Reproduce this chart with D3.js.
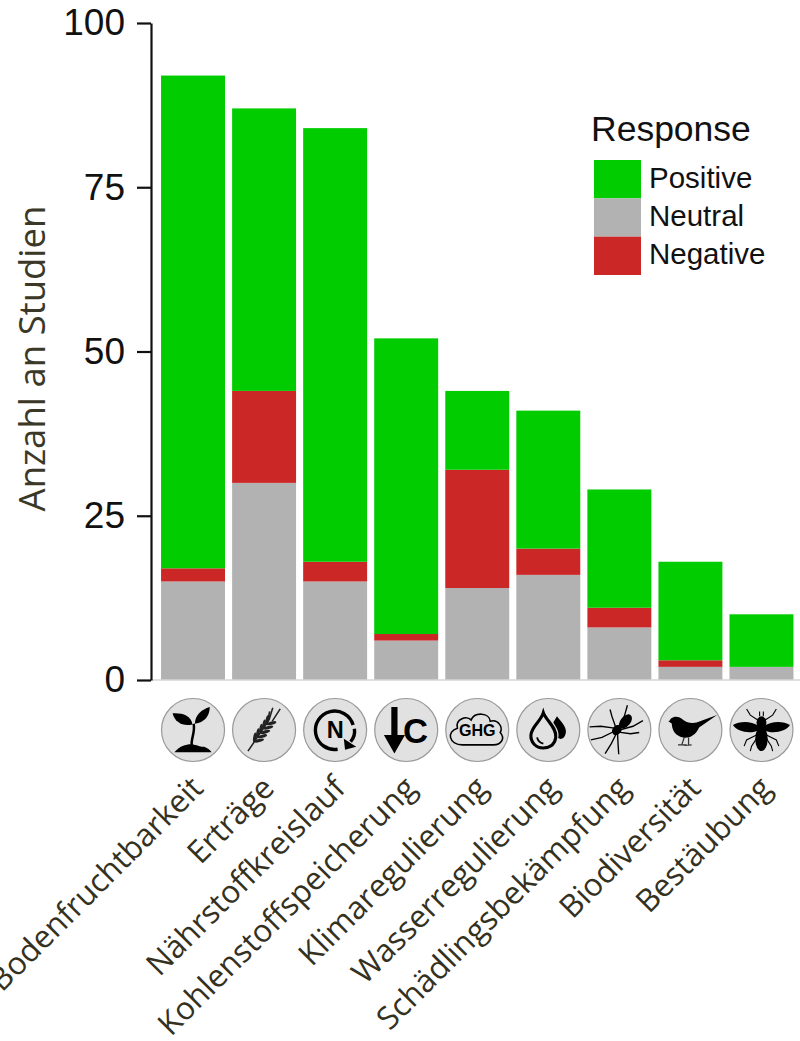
<!DOCTYPE html>
<html>
<head>
<meta charset="utf-8">
<script src="https://cdn.jsdelivr.net/npm/d3@7"></script>
<style>
  html, body { margin: 0; padding: 0; background: #fff; overflow: hidden; }
  .tick-label { font-family: "Liberation Sans", Arial, sans-serif; font-size: 37px; fill: #111; }
  .axis-title { font-family: "Open Sans", sans-serif; font-size: 36.5px; fill: #3b3828; }
  .cat-label { font-family: "Open Sans", sans-serif; font-size: 31.5px; fill: #34311f; }
  .legend-title { font-family: "Liberation Sans", Arial, sans-serif; font-size: 35.5px; fill: #111; }
  .legend-label { font-family: "Liberation Sans", Arial, sans-serif; font-size: 29.5px; fill: #111; }
</style>
</head>
<body>
<div id="chart"></div>
<script>
const categories = ['Bodenfruchtbarkeit', 'Erträge', 'Nährstoffkreislauf', 'Kohlenstoffspeicherung',
    'Klimaregulierung', 'Wasserregulierung', 'Schädlingsbekämpfung', 'Biodiversität', 'Bestäubung'];
const neutral = [15, 30, 15, 6, 14, 16, 8, 2, 2];
const negative = [2, 14, 3, 1, 18, 4, 3, 1, 0];
const positive = [75, 43, 66, 45, 12, 21, 18, 15, 8];
const yTicks = [0, 25, 50, 75, 100];
const stackOrder = ['Neutral', 'Negative', 'Positive'];
const legendOrder = ['Positive', 'Neutral', 'Negative'];
const iconNames = ['sprout', 'wheat', 'nitrogen', 'carbon', 'ghg', 'water', 'spider', 'bird', 'bee'];

const colors = {Positive: '#00cc00', Neutral: '#b2b2b2', Negative: '#cc2727'};

const width = 800, height = 1041;
const margin = {top: 23, left: 151, bottom: 361, right: 5};

const svg = d3.select('#chart').append('svg')
    .attr('width', width)
    .attr('height', height);

const x = d3.scaleBand()
    .domain(categories)
    .range([margin.left + 6.5, 797])
    .paddingInner(0.1)
    .paddingOuter(0.05);

const y = d3.scaleLinear()
    .domain([0, 100])
    .range([height - margin.bottom, margin.top]);

const rows = categories.map((c, i) => ({
    category: c, Neutral: neutral[i], Negative: negative[i], Positive: positive[i]
}));
const series = d3.stack().keys(stackOrder)(rows);

svg.append('g').selectAll('g')
    .data(series)
    .join('g')
    .attr('fill', d => colors[d.key])
    .selectAll('rect')
    .data(d => d)
    .join('rect')
    .attr('x', d => x(d.data.category))
    .attr('y', d => y(d[1]))
    .attr('width', x.bandwidth())
    .attr('height', d => y(d[0]) - y(d[1]));

// baseline is a thin grey rule, the y axis is black
svg.append('line')
    .attr('x1', margin.left).attr('x2', 800)
    .attr('y1', y(0)).attr('y2', y(0))
    .attr('stroke', '#d6d6d6')
    .attr('stroke-width', 1.5);

const yAxis = svg.append('g')
    .attr('transform', `translate(${margin.left},0)`)
    .call(d3.axisLeft(y).tickValues(yTicks).tickSize(14).tickSizeOuter(0).tickPadding(12));
yAxis.selectAll('path, line').attr('stroke', '#111').attr('stroke-width', 2.2);
yAxis.selectAll('text').attr('class', 'tick-label').attr('fill', null).attr('font-size', null).attr('font-family', null);

svg.append('text')
    .attr('class', 'axis-title')
    .attr('text-anchor', 'middle')
    .attr('transform', `translate(45,${y(50) + 7}) rotate(-90)`)
    .text('Anzahl an Studien');

// category icons, drawn in a local box centred on 0,0
const icons = {
    sprout(g) {
        g.append('path').attr('d', 'M-2,26 C-4,14 4,4 1,-10').attr('fill', 'none').attr('stroke', '#000').attr('stroke-width', 4);
        g.append('path').attr('d', 'M-1,-9 C-3,-24 -18,-28 -33,-27 C-30,-13 -16,-5 -1,-9 Z').attr('fill', '#000');
        g.append('path').attr('d', 'M3,-10 C3,-24 14,-33 27,-37 C27,-22 18,-12 3,-10 Z').attr('fill', '#000');
        g.append('path').attr('d', 'M-30,36 C-22,26 -12,23 -3,23 C8,24 12,28 18,27 C24,29 28,33 30,36 Z').attr('fill', '#000');
    },
    wheat(g) {
        g.append('path').attr('d', 'M-26,34 L8,-16 M8,-16 L14,-36 M13,-14 L26,-34 M6,-16 L9,-30').attr('fill', 'none').attr('stroke', '#222').attr('stroke-width', 2.5);
        [0, 1, 2, 3, 4].forEach(i => {
            const px = -12 + i * 5, py = 14 - i * 7;
            g.append('ellipse').attr('rx', 8).attr('ry', 2.6).attr('transform', `translate(${px - 3},${py - 2}) rotate(-80)`).attr('fill', '#222');
            g.append('ellipse').attr('rx', 8).attr('ry', 2.6).attr('transform', `translate(${px + 4},${py + 3}) rotate(-15)`).attr('fill', '#222');
        });
    },
    nitrogen(g) {
        g.append('path').attr('d', 'M4,31 A31,31 0 1 1 29,-8').attr('fill', 'none').attr('stroke', '#000').attr('stroke-width', 5.5);
        g.append('path').attr('d', 'M31,-2 C33,8 29,14 25,19').attr('fill', 'none').attr('stroke', '#000').attr('stroke-width', 5.5);
        g.append('path').attr('d', 'M14,14 L16,32 L34,27 Z').attr('fill', '#000');
        g.append('text').attr('text-anchor', 'middle').attr('y', 13).attr('font-family', 'Liberation Sans').attr('font-weight', 700).attr('font-size', 38).text('N');
    },
    carbon(g) {
        g.append('path').attr('d', 'M-24,-37 L-14,-37 L-14,8 L-2,8 L-19,38 L-36,8 L-24,8 Z').attr('fill', '#000');
        g.append('text').attr('text-anchor', 'middle').attr('x', 15).attr('y', 21).attr('font-family', 'Liberation Sans').attr('font-weight', 700).attr('font-size', 56).text('C');
    },
    ghg(g) {
        g.append('path').attr('d', 'M-24,24 C-46,24 -50,2 -32,-3 C-36,-18 -16,-24 -10,-16 C-4,-30 20,-28 21,-14 C34,-18 42,-4 37,4 C46,14 38,24 26,24 Z')
            .attr('fill', 'none').attr('stroke', '#000').attr('stroke-width', 2.5);
        g.append('text').attr('text-anchor', 'middle').attr('y', 10).attr('font-family', 'Liberation Sans').attr('font-weight', 700).attr('font-size', 26).text('GHG');
    },
    water(g) {
        g.append('path').attr('d', 'M-8,-28 C-4,-16 14,-4 12,12 C10,26 -1,29 -8,29 C-20,29 -29,20 -28,8 C-27,-6 -12,-14 -8,-28 Z')
            .attr('fill', 'none').attr('stroke', '#000').attr('stroke-width', 5);
        g.append('path').attr('d', 'M14,-22 C20,-14 31,-4 28,6 C26,14 20,16 16,13 C19,2 10,-8 8,-12 Z').attr('fill', '#000');
        g.append('path').attr('d', 'M-18,12 C-17,18 -13,21 -8,22').attr('fill', 'none').attr('stroke', '#000').attr('stroke-width', 3);
    },
    spider(g) {
        g.append('ellipse').attr('rx', 13).attr('ry', 8).attr('transform', 'translate(10,-14) rotate(-50)').attr('fill', '#000');
        g.append('ellipse').attr('rx', 9).attr('ry', 7).attr('transform', 'translate(-4,0) rotate(-50)').attr('fill', '#000');
        g.append('path').attr('d', 'M-5,-2 L-12,-22 L-15,-33 M-2,-4 L8,-22 L13,-40 M-8,-3 L-30,-6 L-48,-5 M0,0 L22,-6 L38,-15 M-8,2 L-28,12 L-46,16 M-4,3 L18,6 L32,4 M-5,6 L-13,22 L-23,38 M-3,5 L-2,24 L-1,39')
            .attr('fill', 'none').attr('stroke', '#000').attr('stroke-width', 2.2);
    },
    bird(g) {
        g.append('path').attr('d', 'M-34,-14 C-32,-22 -20,-24 -14,-18 C-8,-12 2,-10 10,-12 L43,-24 L14,-4 C8,10 -4,14 -12,12 C-24,10 -30,0 -30,-10 Z').attr('fill', '#000');
        g.append('path').attr('d', 'M-36,-14 L-30,-15 L-30,-11 Z').attr('fill', '#000');
        g.append('path').attr('d', 'M-10,12 L-14,24 M-3,12 L-3,24 M-20,24 L-6,24 M-10,25 L2,24').attr('fill', 'none').attr('stroke', '#333').attr('stroke-width', 2);
    },
    bee(g) {
        g.append('path').attr('d', 'M-4,-6 C-18,-16 -36,-14 -46,-8 C-40,2 -18,8 -4,0 Z M4,-6 C18,-16 36,-14 46,-8 C40,2 18,8 4,0 Z').attr('fill', '#000');
        g.append('ellipse').attr('cy', 14).attr('rx', 10).attr('ry', 20).attr('fill', '#000');
        g.append('ellipse').attr('cy', -12).attr('rx', 8).attr('ry', 10).attr('fill', '#000');
        g.append('path').attr('d', 'M-6,-16 L-18,-24 L-24,-34 M6,-16 L18,-24 L24,-34 M-8,8 L-24,16 L-28,26 M8,8 L24,16 L28,26 M-8,14 L-16,26 L-18,34 M8,14 L16,26 L18,34 M-3,-22 L-3,-30 M3,-22 L3,-30')
            .attr('fill', 'none').attr('stroke', '#000').attr('stroke-width', 1.8);
    }
};

const iconG = svg.append('g').selectAll('g')
    .data(categories)
    .join('g')
    .attr('transform', d => `translate(${x(d) + x.bandwidth() / 2},730)`);

iconG.append('circle')
    .attr('r', 31.5)
    .attr('fill', '#e1e1e1')
    .attr('stroke', '#999')
    .attr('stroke-width', 1.2);

iconG.each(function (d, i) {
    const g = d3.select(this).append('g').attr('transform', 'scale(0.62)');
    icons[iconNames[i]](g);
});

svg.append('g').selectAll('text')
    .data(categories)
    .join('text')
    .attr('class', 'cat-label')
    .attr('text-anchor', 'end')
    .attr('transform', d => `translate(${x(d) + x.bandwidth() / 2 + 12},790) rotate(-45)`)
    .text(d => d);

// legend
const legend = svg.append('g').attr('transform', 'translate(594,160)');
const legendY = d3.scaleBand().domain(legendOrder).range([0, 115]);

svg.append('text')
    .attr('class', 'legend-title')
    .attr('x', 591)
    .attr('y', 141)
    .text('Response');

legend.selectAll('rect')
    .data(legendOrder)
    .join('rect')
    .attr('x', 0)
    .attr('y', d => legendY(d))
    .attr('width', 47)
    .attr('height', legendY.bandwidth())
    .attr('fill', d => colors[d]);

legend.selectAll('text')
    .data(legendOrder)
    .join('text')
    .attr('class', 'legend-label')
    .attr('x', 55)
    .attr('y', d => legendY(d) + 27.5)
    .text(d => d);
</script>
</body>
</html>
